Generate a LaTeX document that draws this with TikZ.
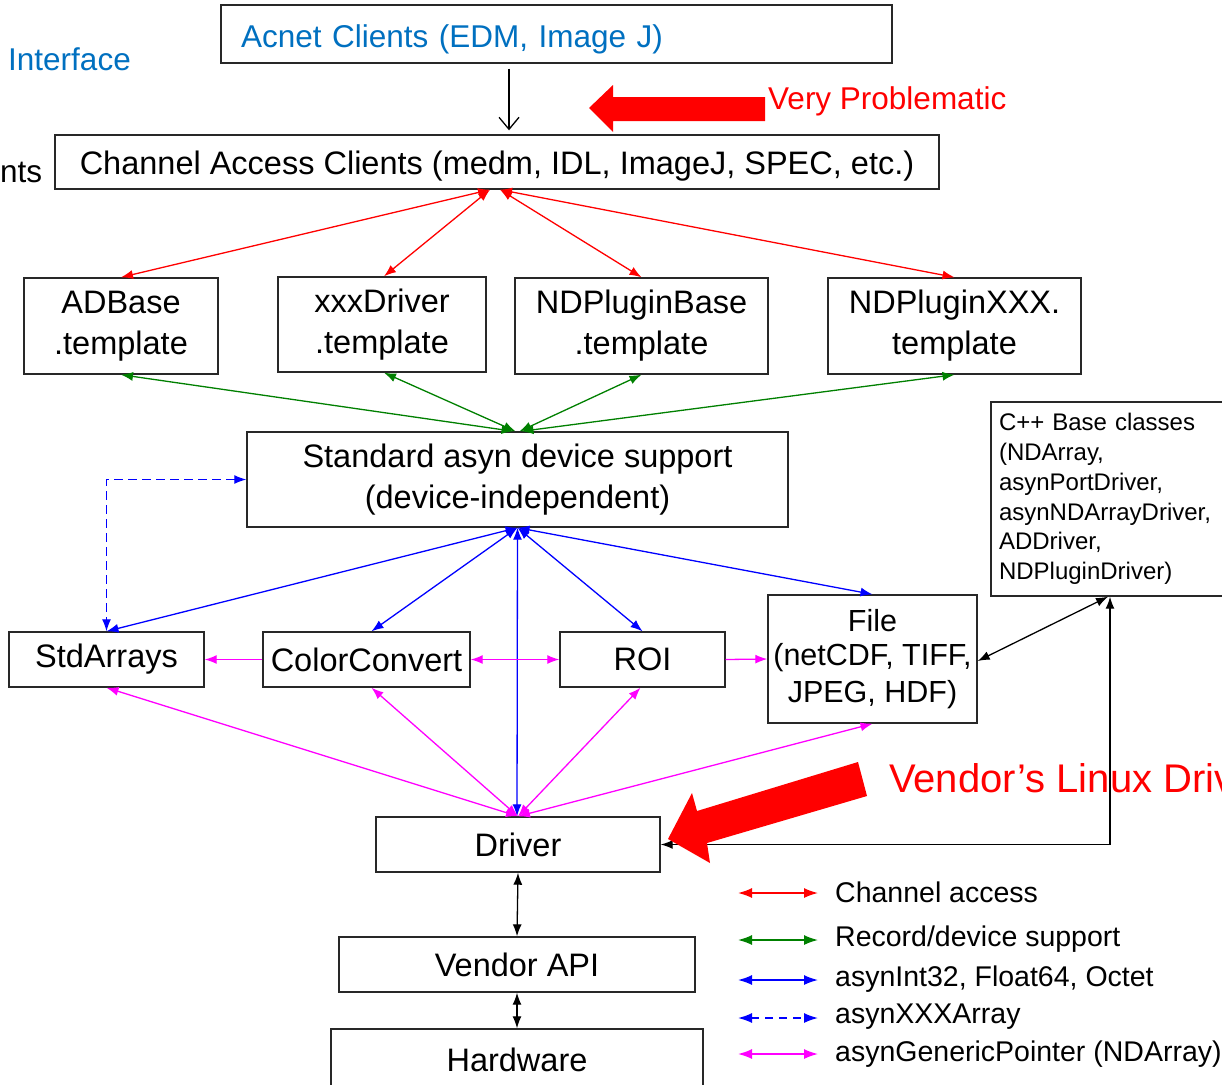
\documentclass[tikz,border=0pt]{standalone}
\usepackage{fontspec}
\setmainfont{Liberation Sans}
\usetikzlibrary{arrows.meta,calc}
\definecolor{ifblue}{RGB}{0,112,192}
\definecolor{rdgreen}{RGB}{0,128,0}
\definecolor{boxgray}{RGB}{40,40,40}
\definecolor{gpmag}{RGB}{255,0,255}
\tikzset{
  box/.style={draw=boxgray,line width=1.4pt,inner sep=0pt,align=center,font=\fontsize{32.5}{41}\selectfont},
  conn/.style={line width=1.3pt},
  tipR/.style={conn,-{Latex[length=12pt,width=9pt]}},
  tipB/.style={conn,{Latex[length=12pt,width=9pt]}-{Latex[length=12pt,width=9pt]}},
  legarr/.style={line width=1.6pt,{Latex[length=14pt,width=10pt]}-{Latex[length=14pt,width=10pt]}},
  legtext/.style={anchor=west,inner sep=0pt,font=\fontsize{28.5}{34}\selectfont},
  lbl/.style={anchor=west,inner sep=0pt,font=\fontsize{31.5}{38}\selectfont},
}
\begin{document}
\begin{tikzpicture}[x=1pt,y=-1pt]
\useasboundingbox (0,0) rectangle (1222,1084);
\clip (0,0) rectangle (1222,1084);
\fill[white] (0,0) rectangle (1222,1084);

% side labels
\node[lbl,text=ifblue] (iface) at (8,59) {Interface};
\node[lbl] (clients) at (0,172) {nts};

% boxes
\node[box,minimum width=671,minimum height=58,text width=631,align=left,text=ifblue,font=\fontsize{31.5}{38}\selectfont,text height=33pt,text depth=7pt] (acnet) at (556.5,34) {Acnet Clients (EDM, Image J)};
\node[box,minimum width=884,minimum height=54,text height=31pt,text depth=7pt] (ca) at (497,162) {Channel Access Clients (medm, IDL, ImageJ, SPEC, etc.)};
\node[box,minimum width=194,minimum height=96] (adb) at (121,326) {ADBase\\.template};
\node[box,minimum width=208,minimum height=95] (xxx) at (382,324.5) {xxxDriver\\.template};
\node[box,minimum width=253,minimum height=96] (ndpb) at (641.5,326) {NDPluginBase\\.template};
\node[box,minimum width=253,minimum height=96] (ndpx) at (954.5,326) {NDPluginXXX.\\template};
\node[box,minimum width=541,minimum height=95] (std) at (517.5,479.5) {Standard asyn device support\\(device-independent)};
\node[box,minimum width=240,minimum height=194,text width=224,align=left,font=\fontsize{24}{29.7}\selectfont] (cpp) at (1111,499) {C++ Base classes\\(NDArray,\\asynPortDriver,\\asynNDArrayDriver,\\ADDriver,\\NDPluginDriver)};
\node[box,minimum width=195,minimum height=55] (stda) at (106.5,659.5) {StdArrays};
\node[box,minimum width=207,minimum height=55] (cc) at (366.5,659.5) {ColorConvert};
\node[box,minimum width=165,minimum height=55] (roi) at (642.5,659.5) {ROI};
\node[box,minimum width=209,minimum height=128,font=\fontsize{30.5}{37}\selectfont] (file) at (872.5,659) {\raisebox{-3pt}{File}\\(netCDF, TIFF,\\JPEG, HDF)};
\node[box,minimum width=284,minimum height=55] (drv) at (518,844.5) {Driver};
\node[box,minimum width=356,minimum height=55] (vapi) at (517,964.5) {Vendor API};
\node[box,minimum width=372,minimum height=62] (hw) at (517,1060) {Hardware};

% acnet -> CA
\draw[conn,-{Straight Barb[length=12pt,width=20pt]}] ([xshift=-47.5pt,yshift=-5pt]acnet.south) -- ([xshift=12pt,yshift=4pt]ca.north);

% channel access (red)
\begin{scope}[red]
\draw[tipB] ([xshift=-7pt]ca.south) -- (adb.north);
\draw[tipB] ([xshift=-7pt]ca.south) -- ([xshift=2pt]xxx.north);
\draw[tipB] ([xshift=3pt]ca.south) -- (ndpb.north);
\draw[tipB] ([xshift=3pt]ca.south) -- (ndpx.north);
\end{scope}

% record/device support (green)
\begin{scope}[rdgreen]
\draw[tipB] (adb.south) -- ([xshift=-4pt]std.north);
\draw[tipB] ([xshift=2pt]xxx.south) -- ([xshift=-2pt]std.north);
\draw[tipB] (ndpb.south) -- ([xshift=2pt]std.north);
\draw[tipB] (ndpx.south) -- ([xshift=4pt]std.north);
\end{scope}

% asyn (blue)
\begin{scope}[blue]
\draw[tipB,dashed,dash pattern=on 9pt off 5pt] (std.west) -| (stda.north);
\draw[tipB] (std.south) -- (stda.north);
\draw[tipB] (std.south) -- ([xshift=5pt]cc.north);
\draw[tipB] (std.south) -- (roi.north);
\draw[tipB] (std.south) -- (file.north);
\draw[tipB] (std.south) -- ([xshift=-1pt]drv.north);
\end{scope}

% generic pointer (magenta)
\begin{scope}[gpmag]
\draw[tipR] (cc.west) -- (stda.east);
\draw[tipB] (cc.east) -- (roi.west);
\draw[tipR] (roi.east) -- (file.west);
\draw[tipB] (drv.north) -- (stda.south);
\draw[tipB] (drv.north) -- ([xshift=5pt]cc.south);
\draw[tipB] (drv.north) -- ([xshift=-2pt]roi.south);
\draw[tipB] (drv.north) -- (file.south);
\end{scope}

% black links
\draw[tipB,black] ([yshift=-2pt]file.east) -- ([xshift=-3pt]cpp.south);
\draw[tipB,black] ([xshift=-1pt]cpp.south) |- (drv.east);
\draw[tipB,black] (drv.south) -- (vapi.north);
\draw[tipB,black] (vapi.south) -- (hw.north);

% big red annotation arrows
\fill[red] (589,108) -- (613,85) -- (613,97) -- (765,97) -- (765,121) -- (613,121) -- (613,132) -- cycle;
\node[lbl,text=red] (vp) at (768,101) {Very Problematic};
\fill[red] (668,839) -- (692,793) -- (697,811) -- (858,762) -- (867,796) -- (707,843) -- (710,863) -- cycle;
\node[anchor=west,inner sep=0pt,text=red,font=\fontsize{40}{46}\selectfont] (vld) at (889,778) {Vendor’s Linux Driver};

% legend
\coordinate (l1a) at (738,893); \coordinate (l1b) at (818,893);
\coordinate (l2a) at (738,940); \coordinate (l2b) at (818,940);
\coordinate (l3a) at (738,980); \coordinate (l3b) at (818,980);
\coordinate (l4a) at (738,1018); \coordinate (l4b) at (818,1018);
\coordinate (l5a) at (738,1054); \coordinate (l5b) at (818,1054);
\draw[legarr,red] (l1a) -- (l1b);
\draw[legarr,rdgreen] (l2a) -- (l2b);
\draw[legarr,blue] (l3a) -- (l3b);
\draw[legarr,blue,dash pattern=on 8pt off 6pt] (l4a) -- (l4b);
\draw[legarr,gpmag] (l5a) -- (l5b);
\node[legtext] (t1) at (835,892) {Channel access};
\node[legtext] (t2) at (835,939) {Record/device support};
\node[legtext] (t3) at (835,979) {asynInt32, Float64, Octet};
\node[legtext] (t4) at (835,1017) {asynXXXArray};
\node[legtext] (t5) at (835,1054) {asynGenericPointer (NDArray)};
\end{tikzpicture}
\end{document}
